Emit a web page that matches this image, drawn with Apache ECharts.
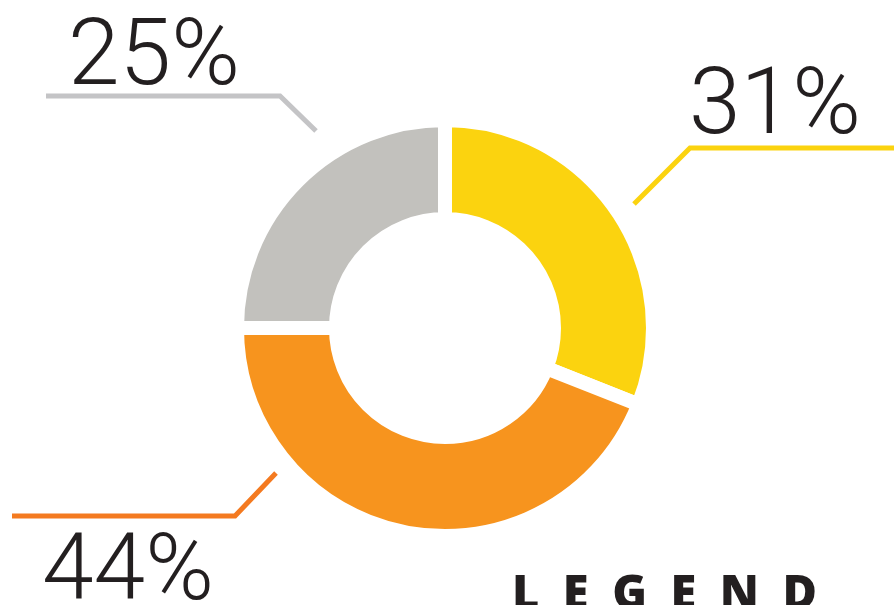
<!DOCTYPE html>
<html>
<head>
<meta charset="utf-8">
<script src="https://cdn.jsdelivr.net/npm/echarts@6/dist/echarts.min.js"></script>
<style>
html,body{margin:0;padding:0;background:#fff;}
#chart{width:894px;height:605px;}
</style>
</head>
<body>
<div id="chart"></div>
<script>
// Data
var categories = ['Yellow', 'Orange', 'Gray'];
var values = [31, 44, 25];
var sliceColors = ['#FBD30F', '#F7941E', '#C2C1BD'];
var lineColors = ['#FBD30F', '#F47A20', '#C4C4C6'];
var legendTitle = 'LEGEND';

// Annotation placement (label centre and leader-line bend points, in px)
var labelPos = [
  {x: 775, y: 110, line: [[634, 204], [690, 148], [894, 148]]},
  {x: 128, y: 576, line: [[276, 473], [235, 516], [12, 516]]},
  {x: 154, y: 61,  line: [[316, 131], [280, 96], [46, 96]]}
];

var chart = echarts.init(document.getElementById('chart'), null, {renderer: 'canvas'});

var data = categories.map(function (c, i) {
  return {
    name: c,
    value: values[i],
    itemStyle: {color: sliceColors[i]},
    labelLine: {lineStyle: {color: lineColors[i]}}
  };
});

chart.setOption({
  animation: false,
  backgroundColor: '#ffffff',
  series: [{
    type: 'pie',
    center: [445, 328],
    radius: [109, 208],
    startAngle: 90,
    clockwise: true,
    avoidLabelOverlap: false,
    itemStyle: {borderColor: '#ffffff', borderWidth: 14},
    emphasis: {disabled: true},
    label: {
      show: true,
      formatter: function (p) { return p.value + '%'; },
      fontFamily: 'Roboto',
      fontWeight: 300,
      fontSize: 93,
      color: '#231F20'
    },
    labelLine: {
      show: true,
      lineStyle: {width: 5}
    },
    labelLayout: function (params) {
      var lp = labelPos[params.dataIndex];
      return {
        x: lp.x,
        y: lp.y,
        align: 'center',
        verticalAlign: 'middle',
        labelLinePoints: lp.line
      };
    },
    data: data
  }],
  graphic: [{
    type: 'text',
    left: 512,
    top: 572,
    style: {
      text: legendTitle.split('').join('\u2002'),
      font: '800 47px "Open Sans"',
      fill: '#231F20'
    }
  }]
});
</script>
</body>
</html>
